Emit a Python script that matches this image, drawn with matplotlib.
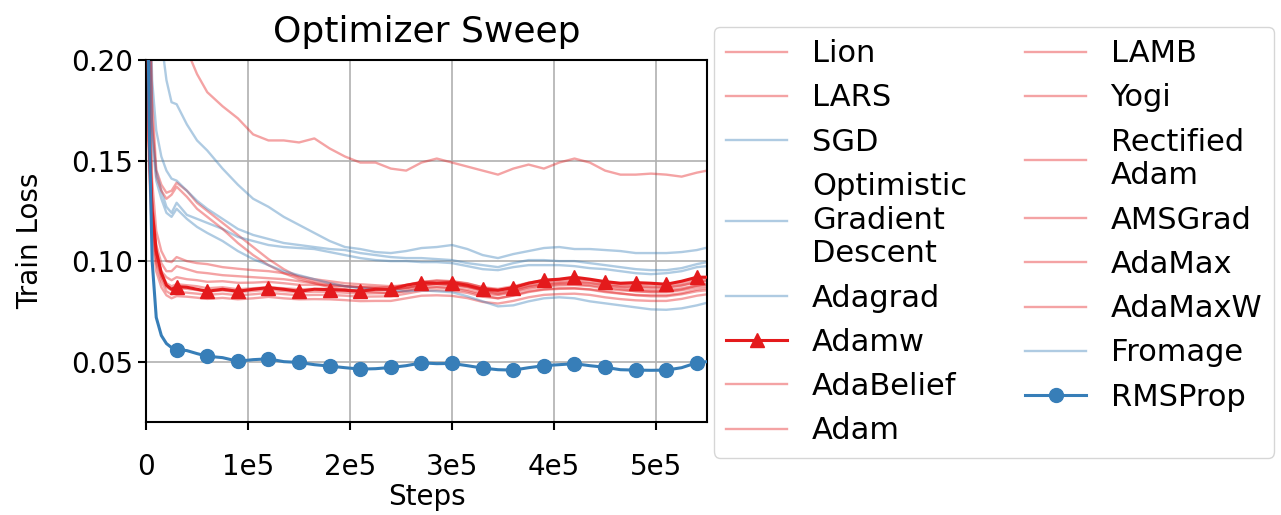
import matplotlib
matplotlib.use("Agg")
import matplotlib.pyplot as plt
import numpy as np

# training steps (thousands) shared by every run
steps_k = [0, 3, 6, 10, 15, 20, 25, 30, 40, 50, 60, 75, 90, 105, 120, 135, 150, 165,
           180, 195, 210, 225, 240, 255, 270, 285, 300, 315, 330, 345, 360, 375, 390,
           405, 420, 435, 450, 465, 480, 495, 510, 525, 540, 550]

lion = [0.40, 0.36, 0.33, 0.30, 0.27, 0.25, 0.235, 0.222, 0.205, 0.193, 0.184, 0.177, 0.171,
        0.163, 0.160, 0.160, 0.159, 0.161, 0.156, 0.152, 0.149, 0.149, 0.146, 0.145, 0.149,
        0.151, 0.149, 0.147, 0.145, 0.143, 0.146, 0.148, 0.146, 0.149, 0.151, 0.149, 0.145,
        0.143, 0.143, 0.1435, 0.143, 0.142, 0.144, 0.145]
lars = [0.40, 0.25, 0.18, 0.1454, 0.138, 0.134, 0.135, 0.139, 0.135, 0.129, 0.125, 0.119, 0.113,
        0.107, 0.101, 0.096, 0.092, 0.090, 0.089, 0.0875, 0.087, 0.0865, 0.086, 0.0865, 0.088,
        0.0885, 0.088, 0.087, 0.085, 0.0835, 0.085, 0.087, 0.088, 0.0885, 0.0885, 0.088, 0.087,
        0.086, 0.085, 0.0845, 0.0845, 0.0855, 0.087, 0.0875]
sgd = [0.45, 0.35, 0.30, 0.25, 0.21, 0.19, 0.179, 0.178, 0.168, 0.160, 0.155, 0.146, 0.138,
       0.131, 0.127, 0.122, 0.118, 0.114, 0.110, 0.107, 0.106, 0.1045, 0.104, 0.105, 0.1065,
       0.107, 0.108, 0.106, 0.103, 0.1015, 0.1035, 0.105, 0.1065, 0.107, 0.106, 0.106, 0.1055,
       0.105, 0.104, 0.104, 0.104, 0.1045, 0.1055, 0.1067]
ogd = [0.40, 0.25, 0.19, 0.165, 0.152, 0.145, 0.141, 0.140, 0.135, 0.130, 0.126, 0.121, 0.116,
       0.113, 0.111, 0.109, 0.108, 0.107, 0.106, 0.1055, 0.104, 0.103, 0.102, 0.1015, 0.1015,
       0.101, 0.1005, 0.099, 0.098, 0.097, 0.099, 0.1005, 0.1005, 0.100, 0.100, 0.099, 0.098,
       0.097, 0.096, 0.0955, 0.0955, 0.0965, 0.0985, 0.0995]
adagrad = [0.38, 0.22, 0.165, 0.145, 0.135, 0.127, 0.124, 0.129, 0.123, 0.121, 0.119, 0.116, 0.112,
           0.110, 0.108, 0.107, 0.1065, 0.106, 0.1045, 0.103, 0.1015, 0.1005, 0.100, 0.100, 0.0995,
           0.0995, 0.099, 0.0975, 0.096, 0.0955, 0.097, 0.098, 0.098, 0.098, 0.0975, 0.0965, 0.096,
           0.095, 0.094, 0.0935, 0.094, 0.095, 0.097, 0.0975]
adamw = [0.30, 0.16, 0.125, 0.105, 0.094, 0.088, 0.086, 0.0873, 0.087, 0.086, 0.0850, 0.086, 0.0850,
         0.086, 0.0868, 0.086, 0.0850, 0.086, 0.0858, 0.0855, 0.0850, 0.086, 0.0860, 0.088, 0.0893,
         0.089, 0.0893, 0.088, 0.0860, 0.0855, 0.0868, 0.089, 0.0905, 0.091, 0.0920, 0.091, 0.0898,
         0.089, 0.0893, 0.089, 0.0885, 0.090, 0.0920, 0.092]
adabelief = [0.39, 0.24, 0.17, 0.142, 0.135, 0.131, 0.133, 0.137, 0.132, 0.126, 0.122, 0.116, 0.109,
             0.103, 0.098, 0.094, 0.091, 0.089, 0.087, 0.086, 0.085, 0.0845, 0.084, 0.085, 0.0865,
             0.087, 0.0865, 0.085, 0.083, 0.0815, 0.083, 0.085, 0.086, 0.0865, 0.0865, 0.086, 0.085,
             0.084, 0.083, 0.0825, 0.0825, 0.0835, 0.085, 0.0855]
adam = [0.30, 0.16, 0.124, 0.104, 0.094, 0.089, 0.0875, 0.0885, 0.088, 0.0875, 0.0865, 0.087, 0.086,
        0.0865, 0.087, 0.0865, 0.086, 0.0862, 0.0862, 0.0858, 0.0853, 0.0855, 0.0855, 0.0868, 0.0882,
        0.0885, 0.0883, 0.0872, 0.0855, 0.0848, 0.086, 0.0878, 0.089, 0.0895, 0.0898, 0.0893, 0.088,
        0.0873, 0.087, 0.0868, 0.0868, 0.0878, 0.0898, 0.0905]
lamb = [0.32, 0.17, 0.125, 0.104, 0.095, 0.092, 0.0905, 0.092, 0.091, 0.0905, 0.0897, 0.090, 0.0892,
        0.0893, 0.0897, 0.089, 0.0882, 0.0882, 0.088, 0.0876, 0.0871, 0.0871, 0.087, 0.0882, 0.0897,
        0.0901, 0.0899, 0.0888, 0.087, 0.0862, 0.0875, 0.0893, 0.0905, 0.091, 0.0913, 0.0907, 0.0895,
        0.0887, 0.0883, 0.0881, 0.088, 0.089, 0.091, 0.0915]
yogi = [0.35, 0.20, 0.14, 0.115, 0.105, 0.100, 0.0995, 0.102, 0.100, 0.099, 0.0985, 0.097, 0.0962,
        0.0955, 0.095, 0.094, 0.0925, 0.091, 0.090, 0.089, 0.0885, 0.088, 0.0875, 0.088, 0.0895,
        0.0905, 0.090, 0.089, 0.087, 0.0855, 0.087, 0.089, 0.090, 0.0905, 0.091, 0.0905, 0.089,
        0.088, 0.0875, 0.087, 0.087, 0.088, 0.0895, 0.090]
radam = [0.33, 0.19, 0.13, 0.108, 0.099, 0.095, 0.095, 0.0975, 0.096, 0.0945, 0.094, 0.093, 0.0925,
         0.092, 0.0915, 0.091, 0.090, 0.089, 0.088, 0.0875, 0.087, 0.0865, 0.086, 0.0865, 0.088,
         0.089, 0.0885, 0.0875, 0.0855, 0.084, 0.0855, 0.0875, 0.0885, 0.089, 0.0895, 0.089, 0.088,
         0.087, 0.086, 0.0855, 0.0855, 0.0865, 0.088, 0.0885]
amsgrad = [0.29, 0.15, 0.118, 0.099, 0.090, 0.085, 0.0835, 0.0845, 0.0843, 0.0838, 0.0832, 0.0838,
           0.083, 0.0835, 0.0842, 0.0836, 0.083, 0.0832, 0.0832, 0.0828, 0.0823, 0.0824, 0.0825,
           0.0838, 0.0852, 0.0855, 0.0852, 0.0842, 0.0823, 0.0815, 0.0828, 0.0846, 0.0858, 0.0862,
           0.0864, 0.0858, 0.0846, 0.0838, 0.0832, 0.083, 0.083, 0.084, 0.0858, 0.0865]
adamax = [0.30, 0.155, 0.12, 0.101, 0.092, 0.087, 0.0855, 0.0866, 0.0862, 0.0856, 0.0848, 0.0854,
          0.0846, 0.0851, 0.0858, 0.0851, 0.0845, 0.0848, 0.0847, 0.0843, 0.0838, 0.084, 0.084,
          0.0853, 0.0868, 0.087, 0.0868, 0.0857, 0.0838, 0.0831, 0.0844, 0.0862, 0.0874, 0.0879,
          0.0881, 0.0876, 0.0863, 0.0855, 0.0851, 0.0849, 0.0849, 0.0859, 0.0878, 0.0885]
adamaxw = [0.28, 0.145, 0.112, 0.095, 0.087, 0.083, 0.0815, 0.0826, 0.0823, 0.0818, 0.0812, 0.0817,
           0.081, 0.0815, 0.0822, 0.0815, 0.081, 0.0811, 0.081, 0.0806, 0.0801, 0.0802, 0.0802,
           0.0815, 0.0828, 0.083, 0.0827, 0.0816, 0.0797, 0.0789, 0.0802, 0.082, 0.0832, 0.0836,
           0.0838, 0.0832, 0.082, 0.0811, 0.0805, 0.0802, 0.0802, 0.0812, 0.0828, 0.0835]
fromage = [0.36, 0.21, 0.16, 0.14, 0.131, 0.124, 0.122, 0.126, 0.121, 0.117, 0.114, 0.110, 0.105,
           0.101, 0.098, 0.095, 0.093, 0.091, 0.089, 0.0875, 0.0865, 0.086, 0.0855, 0.085, 0.0855,
           0.085, 0.0845, 0.0825, 0.080, 0.0775, 0.078, 0.080, 0.0815, 0.082, 0.0815, 0.080, 0.079,
           0.078, 0.077, 0.076, 0.0758, 0.0765, 0.078, 0.0793]
rmsprop = [0.30, 0.17, 0.10, 0.072, 0.063, 0.059, 0.057, 0.056, 0.0555, 0.054, 0.0527, 0.052, 0.0502,
           0.051, 0.0514, 0.050, 0.0496, 0.0485, 0.0478, 0.047, 0.0463, 0.0465, 0.0471, 0.048, 0.0494,
           0.049, 0.0491, 0.048, 0.0468, 0.046, 0.0458, 0.047, 0.0480, 0.0485, 0.0490, 0.048, 0.0472,
           0.046, 0.0458, 0.0457, 0.0458, 0.047, 0.0495, 0.050]

RED = "#e41a1c"
BLUE = "#377eb8"

runs = [
    ("Lion", lion, RED, None),
    ("LARS", lars, RED, None),
    ("SGD", sgd, BLUE, None),
    ("Optimistic\nGradient\nDescent", ogd, BLUE, None),
    ("Adagrad", adagrad, BLUE, None),
    ("Adamw", adamw, RED, "^"),
    ("AdaBelief", adabelief, RED, None),
    ("Adam", adam, RED, None),
    ("LAMB", lamb, RED, None),
    ("Yogi", yogi, RED, None),
    ("Rectified\nAdam", radam, RED, None),
    ("AMSGrad", amsgrad, RED, None),
    ("AdaMax", adamax, RED, None),
    ("AdaMaxW", adamaxw, RED, None),
    ("Fromage", fromage, BLUE, None),
    ("RMSProp", rmsprop, BLUE, "o"),
]

plt.rcParams["font.size"] = 20
plt.rcParams["axes.linewidth"] = 1.5

steps = np.array(steps_k) * 1e3
# markers every 30k steps
marks = [i for i, s in enumerate(steps_k) if s > 0 and s % 30 == 0]

fig = plt.figure(figsize=(12.81, 5.15), dpi=100)
ax = fig.add_axes([0.114, 0.1806, 0.438, 0.7029])

for label, vals, color, marker in runs:
    if marker is None:
        ax.plot(steps, vals, color=color, alpha=0.4, lw=1.7, label=label)
    else:
        ax.plot(steps, vals, color=color, lw=2.2, marker=marker, markersize=10,
                markevery=marks, label=label, zorder=5)

ax.set_xlim(0, 5.5e5)
ax.set_ylim(0.02, 0.20)
ax.set_xticks([0, 1e5, 2e5, 3e5, 4e5, 5e5])
ax.set_xticklabels(["0", "1e5", "2e5", "3e5", "4e5", "5e5"])
ax.set_yticks([0.05, 0.10, 0.15, 0.20])
ax.set_yticklabels(["0.05", "0.10", "0.15", "0.20"])
ax.grid(True, color="#b0b0b0", lw=1.2)
ax.tick_params(width=1.5, length=6)
ax.tick_params(axis="x", pad=16)
ax.set_xlabel("Steps", labelpad=2)
ax.set_ylabel("Train Loss", labelpad=19)
ax.set_title("Optimizer Sweep", fontsize=26, pad=13)

fig.legend(loc="upper left", bbox_to_anchor=(0.5574, 0.9476), ncol=2,
           borderaxespad=0, fontsize=22, labelspacing=0.5, columnspacing=1.9)

fig.savefig("out.png", dpi=100)
